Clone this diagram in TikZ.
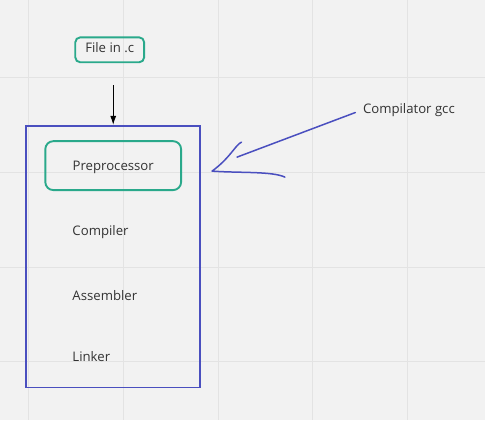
\documentclass[tikz,border=0pt]{standalone}
\usepackage{fontspec}
\setmainfont{Open Sans}
\usetikzlibrary{arrows.meta,positioning}
\definecolor{board}{HTML}{F2F2F2}
\definecolor{gridline}{HTML}{E3E3E3}
\definecolor{mint}{HTML}{2AA98B}
\definecolor{indigo}{HTML}{4A4FBF}
\definecolor{ink}{HTML}{333333}

\begin{document}
\begin{tikzpicture}[x=1pt,y=-1pt,every node/.style={font=\fontsize{13.2}{15}\selectfont,text=ink},card/.style={draw=mint,line width=1.9pt,rounded corners=#1,inner sep=0pt,text depth=0pt},stage/.style={anchor=west,inner sep=0pt},sketch/.style={draw=indigo,line width=1.5pt,line cap=round,line join=round}]
\fill[board] (0,0) rectangle (485,420);
\foreach \gx in {28,123,...,408} \draw[gridline,line width=0.8pt] (\gx,0)--(\gx,420);
\foreach \gy in {77,172,267,362} \draw[gridline,line width=0.8pt] (0,\gy)--(485,\gy);
\node[card=5pt,minimum width=69pt,minimum height=25pt,text depth=4pt] (src) at (109.5,49.5) {File in .c};
\node[draw=indigo,line width=1.9pt,minimum width=174pt,minimum height=262pt,inner sep=0pt] (gcc) at (113,256.7) {};
\draw[-{Latex[length=9pt,width=6pt]},line width=1pt] ([yshift=-22pt]src.south -| gcc.north)--(gcc.north);
\node[card=8pt,minimum width=136pt,minimum height=49pt] (preproc) at (113,165.5) {Preprocessor};
\node[stage] (compiler) at (72,232.3) {Compiler};
\node[stage] (assembler) at (72,295.7) {Assembler};
\node[stage] (linker) at (72,356.5) {Linker};
\node[stage] (label) at (363,109.5) {Compilator gcc};
\coordinate (tail) at (237,157);
\coordinate (head) at (212,171);
\draw[sketch,shorten <=8pt] (label.west)--(tail);
\draw[sketch] (241.5,142) .. controls (236,144) and (230,158) .. (head) .. controls (240,173) and (272,171) .. (285,177);
\end{tikzpicture}
\end{document}
